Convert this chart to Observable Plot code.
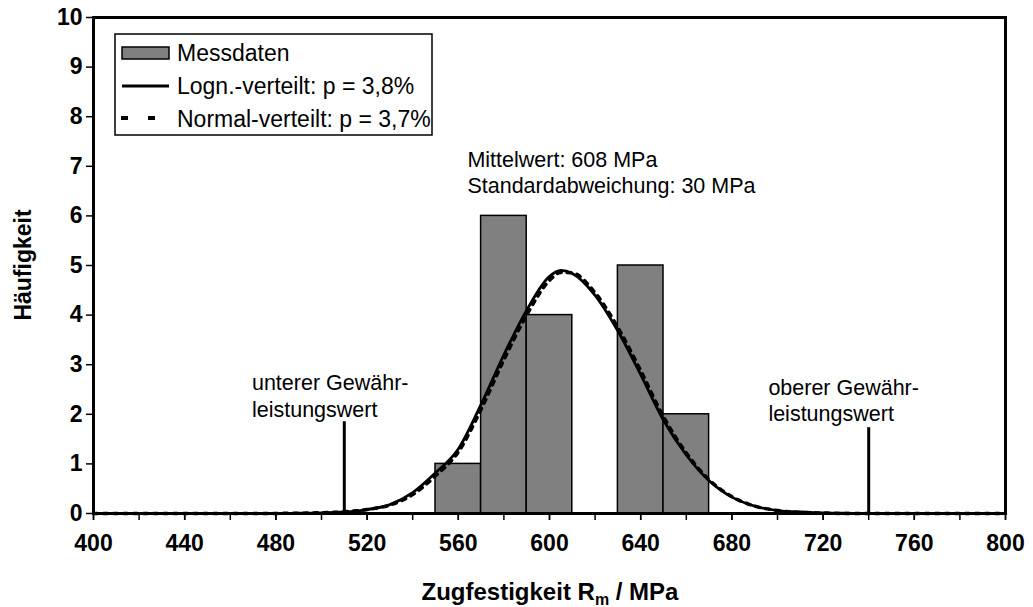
<!DOCTYPE html>
<html>
<head>
<meta charset="utf-8">
<script src="https://cdn.jsdelivr.net/npm/d3@7"></script>
<script src="https://cdn.jsdelivr.net/npm/@observablehq/plot@0.6"></script>
<style>
  html, body { margin: 0; padding: 0; background: #fff; }
  #chart svg { display: block; font-family: "Liberation Sans", Arial, sans-serif; }
</style>
</head>
<body>
<div id="chart"></div>
<script>
// ---- data ----
const binStart = [550, 570, 590, 610, 630, 650];
const binEnd   = [570, 590, 610, 630, 650, 670];
const counts   = [1, 6, 4, 0, 5, 2];

const curveX = [400, 420, 440, 460, 480, 490, 500, 510, 520, 530, 540, 550, 560, 570, 580, 590, 600, 605, 610, 620, 630, 640, 650, 660, 670, 680, 690, 700, 710, 720, 730, 740, 760, 780, 800];
const lognY  = [0, 0, 0, 0, 0, 0.005, 0.01, 0.03, 0.08, 0.18, 0.42, 0.82, 1.3, 2.2, 3.2, 4.1, 4.78, 4.9, 4.84, 4.4, 3.68, 2.8, 1.88, 1.18, 0.66, 0.33, 0.15, 0.06, 0.03, 0.01, 0.005, 0, 0, 0, 0];
const normY  = [0, 0, 0, 0, 0.002, 0.006, 0.015, 0.035, 0.08, 0.17, 0.38, 0.76, 1.24, 2.1, 3.1, 4.0, 4.7, 4.86, 4.85, 4.45, 3.75, 2.88, 1.95, 1.22, 0.68, 0.34, 0.15, 0.06, 0.02, 0.01, 0, 0, 0, 0, 0];

const limitX = [510, 740];
const limitH = [1.85, 1.73];

const xTicksMinor = d3.range(400, 801, 20);
const xTickLabels = d3.range(400, 801, 40);
const yTicks = d3.range(0, 11, 1);

const legendLabels = ["Messdaten", "Logn.-verteilt: p = 3,8%", "Normal-verteilt: p = 3,7%"];
const statText = "Mittelwert: 608 MPa\nStandardabweichung: 30 MPa";
const lowerText = "unterer Gewähr-\nleistungswert";
const upperText = "oberer Gewähr-\nleistungswert";

// ---- tables ----
const bars = binStart.map((s, i) => ({x1: s, x2: binEnd[i], y: counts[i]})).filter(d => d.y > 0);
const logn = curveX.map((x, i) => ({x, y: lognY[i]}));
const norm = curveX.map((x, i) => ({x, y: normY[i]}));
const limits = limitX.map((x, i) => ({x, h: limitH[i]}));

const W = 1033, H = 607;
const plot = Plot.plot({
  width: W,
  height: H,
  marginLeft: 93,
  marginRight: 28,
  marginTop: 17,
  marginBottom: 94,
  style: {fontFamily: "Liberation Sans, Arial, sans-serif", background: "white", color: "black"},
  x: {domain: [400, 800]},
  y: {domain: [0, 10]},
  marks: [
    Plot.rect(bars, {x1: "x1", x2: "x2", y1: 0, y2: "y", fill: "#808080", stroke: "black", strokeWidth: 1.5}),
    Plot.line(logn, {x: "x", y: "y", stroke: "black", strokeWidth: 2.8, curve: "monotone-x"}),
    Plot.line(norm, {x: "x", y: "y", stroke: "black", strokeWidth: 3.5, strokeDasharray: "4,6", curve: "monotone-x"}),
    Plot.ruleX(limits, {x: "x", y1: 0, y2: "h", stroke: "black", strokeWidth: 3}),
    Plot.text([statText], {x: 564, y: 6.9, text: d => d, textAnchor: "start", lineAnchor: "middle", lineHeight: 1.22, fontSize: 21.5, fill: "black"}),
    Plot.text([lowerText], {x: 469.5, y: 2.39, text: d => d, textAnchor: "start", lineAnchor: "middle", lineHeight: 1.25, fontSize: 21.5, fill: "black"}),
    Plot.text([upperText], {x: 696, y: 2.30, text: d => d, textAnchor: "start", lineAnchor: "middle", lineHeight: 1.25, fontSize: 21.5, fill: "black"}),
    Plot.axisX({ticks: xTicksMinor, tickSize: 7, tickFormat: () => "", stroke: "black", strokeWidth: 1.5, label: null}),
    Plot.axisX({ticks: xTickLabels, tickSize: 7, tickPadding: 14, fontSize: 23, fontWeight: "bold", stroke: "black", strokeWidth: 1.5, label: null}),
    Plot.axisY({ticks: yTicks, tickSize: 7, tickPadding: 4, fontSize: 23, fontWeight: "bold", stroke: "black", strokeWidth: 1.5, label: null}),
    Plot.frame({stroke: "black", strokeWidth: 3})
  ]
});

document.getElementById("chart").appendChild(plot);

// ---- axis titles and legend ----
const svg = d3.select(plot);
const t = svg.append("text")
  .attr("x", 550).attr("y", 600)
  .attr("text-anchor", "middle")
  .attr("font-size", 24).attr("font-weight", "bold").attr("fill", "black");
t.append("tspan").text("Zugfestigkeit R");
t.append("tspan").attr("font-size", 16).attr("dy", 5).text("m");
t.append("tspan").attr("dy", -5).text(" / MPa");

svg.append("text")
  .attr("transform", "translate(31,265) rotate(-90)")
  .attr("text-anchor", "middle")
  .attr("font-size", 23).attr("font-weight", "bold").attr("fill", "black")
  .text("Häufigkeit");

const lg = svg.append("g").attr("text-anchor", "start");
lg.append("rect").attr("x", 115).attr("y", 34).attr("width", 317).attr("height", 101)
  .attr("fill", "white").attr("stroke", "black").attr("stroke-width", 1.5);
lg.append("rect").attr("x", 122).attr("y", 47).attr("width", 47).attr("height", 12)
  .attr("fill", "#808080").attr("stroke", "black").attr("stroke-width", 1.5);
lg.append("line").attr("x1", 122).attr("x2", 169).attr("y1", 86).attr("y2", 86)
  .attr("stroke", "black").attr("stroke-width", 3);
lg.append("line").attr("x1", 121).attr("x2", 169).attr("y1", 118).attr("y2", 118)
  .attr("stroke", "black").attr("stroke-width", 4).attr("stroke-dasharray", "7,20");
legendLabels.forEach((s, i) => {
  lg.append("text").attr("x", 177).attr("y", 53 + i * 33).attr("dy", "0.35em")
    .attr("text-anchor", "start")
    .attr("font-size", 23).attr("fill", "black").text(s);
});
</script>
</body>
</html>
